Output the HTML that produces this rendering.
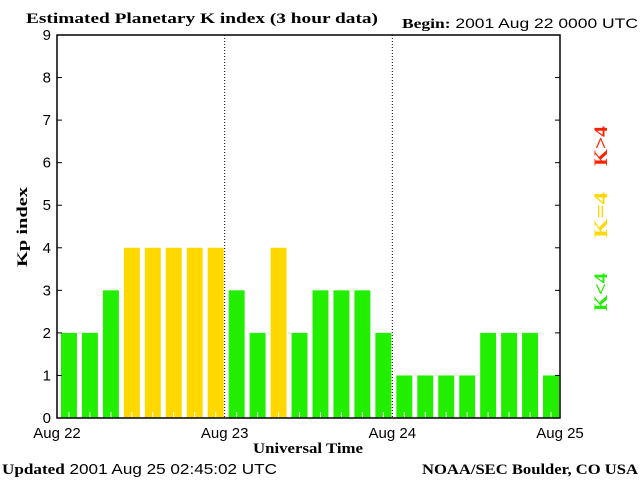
<!DOCTYPE html>
<html><head><meta charset="utf-8"><style>
body{margin:0;background:#fff;width:640px;height:480px;overflow:hidden}
svg text{font-family:"Liberation Sans",sans-serif;font-size:14px;fill:#000}
.b{font-family:"Liberation Serif",serif;font-weight:bold}
</style></head><body>
<svg id="chart" width="640" height="480">
<text class="b" x="26" y="23" textLength="352" lengthAdjust="spacingAndGlyphs" style="font-size:15px">Estimated Planetary K index (3 hour data)</text>
<text x="402" y="28" textLength="236" lengthAdjust="spacingAndGlyphs"><tspan class="b">Begin:</tspan>  2001 Aug 22 0000 UTC</text>
<text class="b" x="0" y="0" transform="translate(27 227) rotate(-90)" text-anchor="middle" textLength="80" lengthAdjust="spacingAndGlyphs" style="font-size:15px">Kp index</text>
<text class="b" x="308" y="453" text-anchor="middle" textLength="110" lengthAdjust="spacingAndGlyphs" style="font-size:15px">Universal Time</text>
<text x="2" y="474" textLength="275" lengthAdjust="spacingAndGlyphs" style="font-size:15px"><tspan class="b">Updated</tspan> 2001 Aug 25 02:45:02 UTC</text>
<text class="b" x="638" y="474" text-anchor="end" textLength="216" lengthAdjust="spacingAndGlyphs" style="font-size:15px">NOAA/SEC Boulder, CO USA</text>
<text class="b" x="0" y="0" transform="translate(607 292) rotate(-90)" style="fill:#22ee00;font-size:19px" text-anchor="middle" textLength="38" lengthAdjust="spacingAndGlyphs">K&lt;4</text>
<text class="b" x="0" y="0" transform="translate(607 215) rotate(-90)" style="fill:#ffd800;font-size:19px" text-anchor="middle" textLength="46" lengthAdjust="spacingAndGlyphs">K=4</text>
<text class="b" x="0" y="0" transform="translate(607 146) rotate(-90)" style="fill:#ff2200;font-size:19px" text-anchor="middle" textLength="40" lengthAdjust="spacingAndGlyphs">K&gt;4</text>
<g id="plot"></g>
</svg>
<script>
const kpValues=[2,2,3,4,4,4,4,4,3,2,4,2,3,3,3,2,1,1,1,1,2,2,2,1];
const dayLabels=["Aug 22","Aug 23","Aug 24","Aug 25"];
const yTicks=[0,1,2,3,4,5,6,7,8,9];
const L=57,R=560,T=35,B=418,NS="http://www.w3.org/2000/svg";
const g=document.getElementById('plot');
const y=v=>B-(B-T)*v/9;
const bw=(R-L)/kpValues.length;
const x=i=>L+i*bw;
function mk(t,a){const e=document.createElementNS(NS,t);for(const k in a)e.setAttribute(k,a[k]);g.appendChild(e);return e;}
kpValues.forEach((v,i)=>{
 const c=v<4?"#22ee00":v==4?"#ffd800":"#ff2200";
 const r=mk('rect',{x:x(i)+4,y:y(v),width:bw-5,height:B-y(v),fill:c});
 
 
 mk('line',{x1:x(i)+bw/2+1.5,x2:x(i)+bw/2+1.5,y1:B-6,y2:B,stroke:"#fff"});
});
for(let d=1;d<3;d++){const xx=L+d*(R-L)/3;mk('line',{x1:xx,x2:xx,y1:T,y2:B,stroke:"#000","stroke-dasharray":"1,2"});}
yTicks.forEach(v=>{
 mk('line',{x1:L,x2:L+5,y1:y(v),y2:y(v),stroke:"#000"});
 mk('line',{x1:R-5,x2:R,y1:y(v),y2:y(v),stroke:"#000"});
 const t=mk('text',{x:L-6,y:y(v)+5,"text-anchor":"end",style:"font-size:15px"});t.textContent=v;
 
 
});
dayLabels.forEach((s,d)=>{
 const t=mk('text',{x:L+d*(R-L)/3,y:438,"text-anchor":"middle",style:"font-size:15px"});t.textContent=s;
 
 
});
const f=mk('rect',{x:L,y:T,width:R-L,height:B-T,fill:"none",stroke:"#000","stroke-width":1.5});


</script>
</body></html>
